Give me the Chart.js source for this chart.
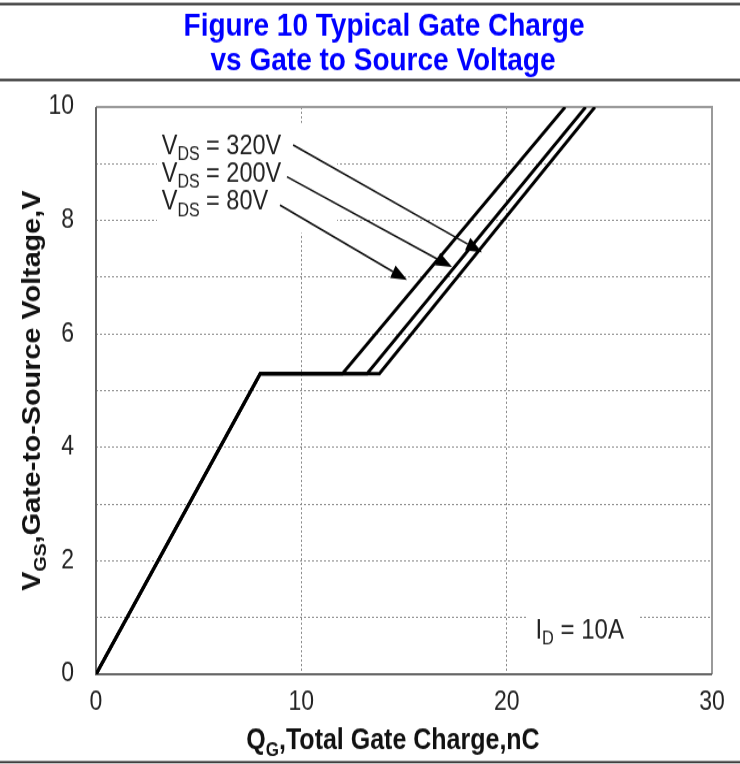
<!DOCTYPE html>
<html><head><meta charset="utf-8">
<script src="https://cdn.jsdelivr.net/npm/chart.js@4/dist/chart.umd.min.js"></script>
<style>
html,body{margin:0;padding:0;background:#fff;}
#outer{width:740px;height:764px;position:relative;}
#wrap{position:absolute;left:0;top:0;width:740px;height:664px;transform:scaleY(1.150602);transform-origin:0 0;}
canvas{display:block;}
</style>
</head><body><div id="outer"><div id="wrap"><canvas id="c" width="740" height="664"></canvas></div></div>
<script>
// ---- data ----
const seriesNames = ['VDS = 80V', 'VDS = 200V', 'VDS = 320V'];
const qg80  = [0, 8.0, 12.0, 22.85];
const vgs80 = [0, 5.3, 5.3, 10];
const qg200  = [0, 8.0, 13.2, 23.85];
const vgs200 = [0, 5.3, 5.3, 10];
const qg320  = [0, 8.0, 13.8, 24.3];
const vgs320 = [0, 5.3, 5.3, 10];
const xTickValues = [0, 10, 20, 30];
const yTickValues = [0, 2, 4, 6, 8, 10];
const titleLines = ['Figure 10 Typical Gate Charge', 'vs Gate to Source Voltage'];

// ---- annotation layout (data units) ----
const vdsLabels = [
  {v: '320V', x: 3.2, y: 9.33, sx: 9.6,  sy: 9.33, tx: 18.8,  ty: 7.44},
  {v: '200V', x: 3.2, y: 8.84, sx: 9.3,  sy: 8.77, tx: 17.34, ty: 7.18},
  {v: '80V',  x: 3.2, y: 8.34, sx: 8.96, sy: 8.27, tx: 15.15, ty: 6.95}
];
const vdsBox = {x0: 2.97, x1: 11.74, y0: 7.78, y1: 9.72};
const idLabel = {x: 21.4, y: 0.78, box: {x0: 20.95, x1: 26.4, y0: 0.6, y1: 1.4}};

const FONT = '"Liberation Sans", Arial, Helvetica, sans-serif';
const TXT = '#222';

function pts(xs, ys) { return xs.map((x, i) => ({x: x, y: ys[i]})); }

function richWidth(ctx, parts, size, bold) {
  let w = 0;
  for (const p of parts) {
    const s = p.sub ? size * 0.68 : size;
    ctx.font = (bold ? 'bold ' : '') + s + 'px ' + FONT;
    w += ctx.measureText(p.t).width;
  }
  return w;
}
function drawRich(ctx, parts, x, y, size, bold, align) {
  const w = richWidth(ctx, parts, size, bold);
  let cx = align === 'center' ? x - w / 2 : x;
  ctx.textBaseline = 'alphabetic';
  ctx.textAlign = 'left';
  for (const p of parts) {
    const s = p.sub ? size * 0.68 : size;
    ctx.font = (bold ? 'bold ' : '') + s + 'px ' + FONT;
    ctx.fillText(p.t, cx, y + (p.sub ? size * 0.22 : 0));
    cx += ctx.measureText(p.t).width;
  }
}

const deco = {
  id: 'deco',
  beforeDraw(chart) {
    const ctx = chart.ctx, W = chart.width;
    ctx.save();
    ctx.fillStyle = '#fff';
    ctx.fillRect(0, 0, W, chart.height);
    ctx.strokeStyle = '#222';
    ctx.lineWidth = 1.8;
    [3.5, 69.5, 662.3].forEach(y => { ctx.beginPath(); ctx.moveTo(0, y); ctx.lineTo(W, y); ctx.stroke(); });
    ctx.fillStyle = '#0000ff';
    ctx.font = 'bold 28px ' + FONT;
    ctx.textAlign = 'center';
    ctx.textBaseline = 'middle';
    ctx.fillText(titleLines[0], 384, 23.5);
    ctx.fillText(titleLines[1], 383, 53);
    ctx.restore();
  },
  beforeDatasetsDraw(chart) {
    const ctx = chart.ctx, xs = chart.scales.x, ys = chart.scales.y, a = chart.chartArea;
    ctx.save();
    ctx.fillStyle = '#fff';
    const bx = (b) => ctx.fillRect(xs.getPixelForValue(b.x0), ys.getPixelForValue(b.y1),
      xs.getPixelForValue(b.x1) - xs.getPixelForValue(b.x0), ys.getPixelForValue(b.y0) - ys.getPixelForValue(b.y1));
    bx(vdsBox); bx(idLabel.box);
    // frame
    ctx.lineWidth = 2;
    ctx.strokeStyle = '#9a9a9a';
    ctx.beginPath(); ctx.moveTo(a.left, a.top); ctx.lineTo(a.right, a.top); ctx.lineTo(a.right, a.bottom); ctx.stroke();
    ctx.strokeStyle = '#666';
    ctx.beginPath(); ctx.moveTo(a.left, a.top); ctx.lineTo(a.left, a.bottom); ctx.lineTo(a.right, a.bottom); ctx.stroke();
    ctx.restore();
  },
  afterDatasetsDraw(chart) {
    const ctx = chart.ctx, xs = chart.scales.x, ys = chart.scales.y, a = chart.chartArea;
    ctx.save();
    ctx.fillStyle = TXT;
    for (const l of vdsLabels) {
      const px = xs.getPixelForValue(l.x), py = ys.getPixelForValue(l.y);
      drawRich(ctx, [{t: 'V'}, {t: 'DS', sub: true}, {t: ' = ' + l.v}], px, py + 7.5, 23.5, false, 'left');
      // arrow
      const sx = xs.getPixelForValue(l.sx), sy = ys.getPixelForValue(l.sy);
      const tx = xs.getPixelForValue(l.tx), ty = ys.getPixelForValue(l.ty);
      const ang = Math.atan2(ty - sy, tx - sx);
      const hl = 16, hw = 6;
      const bxp = tx - hl * Math.cos(ang), byp = ty - hl * Math.sin(ang);
      ctx.strokeStyle = '#111'; ctx.lineWidth = 1.6;
      ctx.beginPath(); ctx.moveTo(sx, sy); ctx.lineTo(bxp, byp); ctx.stroke();
      ctx.fillStyle = '#000';
      ctx.beginPath();
      ctx.moveTo(tx, ty);
      ctx.lineTo(bxp + hw * Math.sin(ang), byp - hw * Math.cos(ang));
      ctx.lineTo(bxp - hw * Math.sin(ang), byp + hw * Math.cos(ang));
      ctx.closePath(); ctx.fill();
      ctx.fillStyle = TXT;
    }
    drawRich(ctx, [{t: 'I'}, {t: 'D', sub: true}, {t: ' = 10A'}],
      xs.getPixelForValue(idLabel.x), ys.getPixelForValue(idLabel.y) + 7.5, 24, false, 'left');
    // axis titles
    ctx.fillStyle = '#111';
    drawRich(ctx, [{t: 'Q'}, {t: 'G', sub: true}, {t: ',Total Gate Charge,nC'}], 393, 651, 25, true, 'center');
    ctx.translate(40, (a.top + a.bottom) / 2);
    ctx.rotate(-Math.PI / 2);
    drawRich(ctx, [{t: 'V'}, {t: 'GS', sub: true}, {t: ',Gate-to-Source Voltage,V'}], 0, 0, 25, true, 'center');
    ctx.restore();
  }
};

const lineStyle = {borderColor: '#000', borderWidth: 3, pointRadius: 0, fill: false, tension: 0, borderJoinStyle: 'miter'};
new Chart(document.getElementById('c'), {
  type: 'line',
  data: {
    datasets: [
      Object.assign({label: seriesNames[0], data: pts(qg80, vgs80)}, lineStyle),
      Object.assign({label: seriesNames[1], data: pts(qg200, vgs200)}, lineStyle),
      Object.assign({label: seriesNames[2], data: pts(qg320, vgs320)}, lineStyle)
    ]
  },
  options: {
    responsive: false,
    animation: false,
    parsing: false,
    devicePixelRatio: 1,
    layout: {padding: {left: 0, right: 28, top: 93, bottom: 0}},
    plugins: {legend: {display: false}, tooltip: {enabled: false}, title: {display: false}},
    scales: {
      x: {
        type: 'linear', min: 0, max: 30,
        afterBuildTicks(s) { s.ticks = xTickValues.map(v => ({value: v})); },
        ticks: {font: {family: FONT, size: 23}, color: TXT, padding: 11, maxRotation: 0, autoSkip: false},
        grid: {color: '#8c8c8c', lineWidth: 1, drawTicks: false},
        border: {display: false, dash: [2, 2]},
        afterFit(s) { s.height = 78; }
      },
      y: {
        type: 'linear', min: 0, max: 10,
        ticks: {stepSize: 1, autoSkip: false, font: {family: FONT, size: 23}, color: TXT, padding: 22,
          callback: v => yTickValues.includes(v) ? String(v) : ''},
        grid: {color: '#8c8c8c', lineWidth: 1, drawTicks: false},
        border: {display: false, dash: [2, 2]},
        afterFit(s) { s.width = 96; }
      }
    }
  },
  plugins: [deco]
});
</script></body></html>
